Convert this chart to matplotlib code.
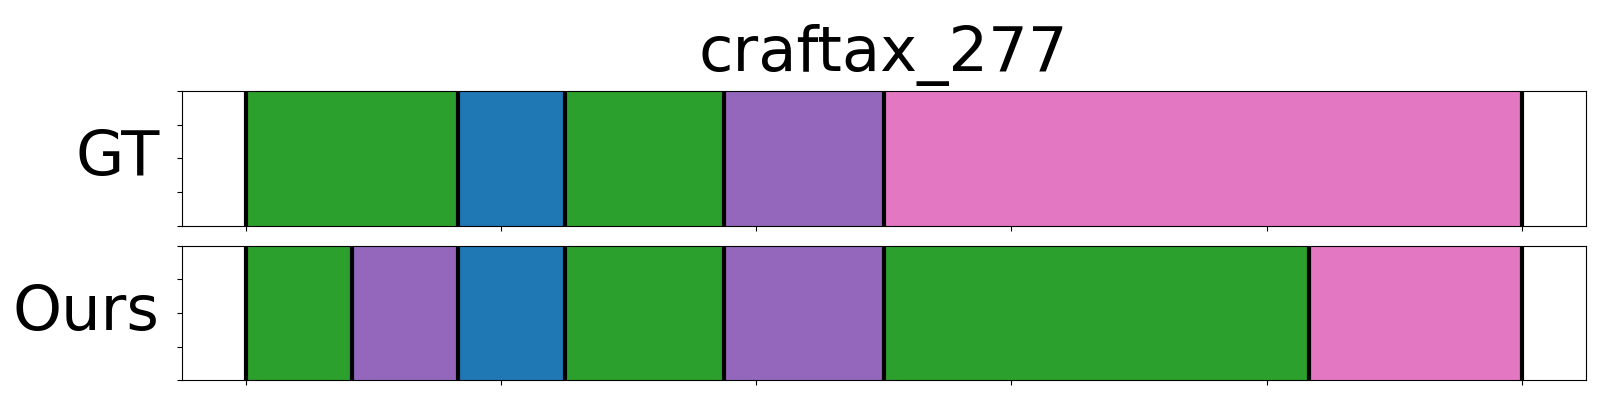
import matplotlib
matplotlib.use("Agg")
import matplotlib.pyplot as plt

title = "craftax_277"
row_labels = ["GT", "Ours"]

# segment boundaries (fraction of episode) and colours per row
gt_bounds = [0.0, 0.1667, 0.25, 0.375, 0.50, 1.0]
gt_colors = ["tab:green", "tab:blue", "tab:green", "tab:purple", "tab:pink"]

ours_bounds = [0.0, 0.0833, 0.1667, 0.25, 0.375, 0.50, 0.8333, 1.0]
ours_colors = ["tab:green", "tab:purple", "tab:blue", "tab:green", "tab:purple",
               "tab:green", "tab:pink"]

rows = [(gt_bounds, gt_colors), (ours_bounds, ours_colors)]

fig, axes = plt.subplots(2, 1, figsize=(16, 4), dpi=100, sharex=True)
fig.subplots_adjust(left=0.1136, right=0.991, top=0.773, bottom=0.049, hspace=0.148)

for ax, label, (bounds, colors) in zip(axes, row_labels, rows):
    for i, c in enumerate(colors):
        ax.axvspan(bounds[i], bounds[i + 1], ymin=0, ymax=1, color=c, lw=0.8)
    for b in bounds:
        ax.axvline(b, color="black", lw=3)
    ax.set_ylim(0, 1)
    ax.set_xlim(-0.05, 1.05)
    ax.set_xticks([0, 0.2, 0.4, 0.6, 0.8, 1.0])
    ax.set_yticks([0, 0.25, 0.5, 0.75, 1.0])
    ax.set_xticklabels([])
    ax.set_yticklabels([])
    ax.set_ylabel(label, fontsize=45, rotation=0, ha="right", va="center", labelpad=9)

axes[0].set_title(title, fontsize=45, pad=14)

fig.savefig("out.png", dpi=100)
